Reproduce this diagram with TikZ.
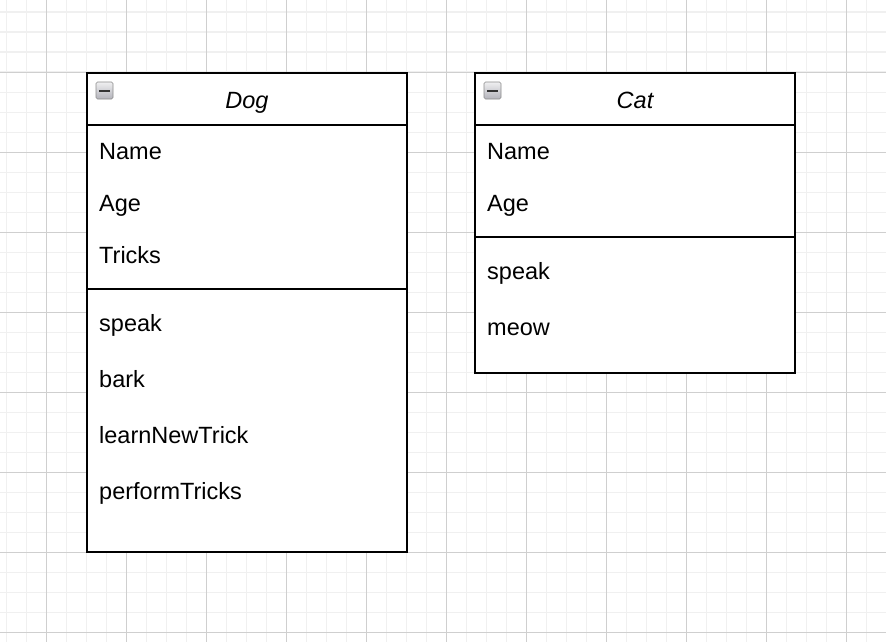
\documentclass[tikz,border=0pt]{standalone}
\usepackage{fontspec}
\setmainfont{Liberation Sans}
\begin{document}
\begin{tikzpicture}[x=1pt,y=-1pt,
  minorline/.style={draw=black!6,line width=1.6pt},
  majorline/.style={draw=black!19,line width=0.9pt},
  classbox/.style={draw=black,line width=2pt,fill=white},
  sepline/.style={draw=black,line width=2pt},
  member/.style={anchor=base west,inner sep=0pt,font=\fontsize{23.5}{28}\selectfont},
  title/.style={anchor=base,inner sep=0pt,font=\fontsize{23.5}{28}\selectfont\itshape},
  iconbox/.style={draw=black!45,line width=0.6pt,rounded corners=1.5pt,top color=blue!8!black!6,bottom color=blue!10!black!30},
]
\useasboundingbox (0,0) rectangle (886,642);
\fill[white] (0,0) rectangle (886,642);
% grid
\foreach \i in {0,...,44} {
  \draw[minorline] ({6.3+20*\i},0) -- ({6.3+20*\i},642);
}
\foreach \j in {0,...,32} {
  \draw[minorline] (0,{12.3+20*\j}) -- (886,{12.3+20*\j});
}
\foreach \i in {0,...,10} {
  \draw[majorline] ({46.3+80*\i},0) -- ({46.3+80*\i},642);
}
\foreach \j in {0,...,7} {
  \draw[majorline] (0,{72.3+80*\j}) -- (886,{72.3+80*\j});
}
% Dog class
\draw[classbox] (87,73) rectangle (407,552);
\draw[sepline] (87,125) -- (407,125);
\draw[sepline] (87,289) -- (407,289);
\draw[iconbox] (96,82) rectangle (113,99);
\fill[black!80] (99,89.6) rectangle (110,92.2);
\node[title] (dogtitle) at (247,108.5) {Dog};
\node[member] (dname) at (99,159.5) {Name};
\node[member] (dage) at (99,211.5) {Age};
\node[member] (dtricks) at (99,263.5) {Tricks};
\node[member] (dspeak) at (99,331.5) {speak};
\node[member] (dbark) at (99,387.5) {bark};
\node[member] (dlearn) at (99,443.5) {learnNewTrick};
\node[member] (dperform) at (99,499.5) {performTricks};
% Cat class
\draw[classbox] (475,73) rectangle (795,373);
\draw[sepline] (475,125) -- (795,125);
\draw[sepline] (475,237) -- (795,237);
\draw[iconbox] (484,82) rectangle (501,99);
\fill[black!80] (487,89.6) rectangle (498,92.2);
\node[title] (cattitle) at (635,108.5) {Cat};
\node[member] (cname) at (487,159.5) {Name};
\node[member] (cage) at (487,211.5) {Age};
\node[member] (cspeak) at (487,279.5) {speak};
\node[member] (cmeow) at (487,335.5) {meow};
\end{tikzpicture}
\end{document}
